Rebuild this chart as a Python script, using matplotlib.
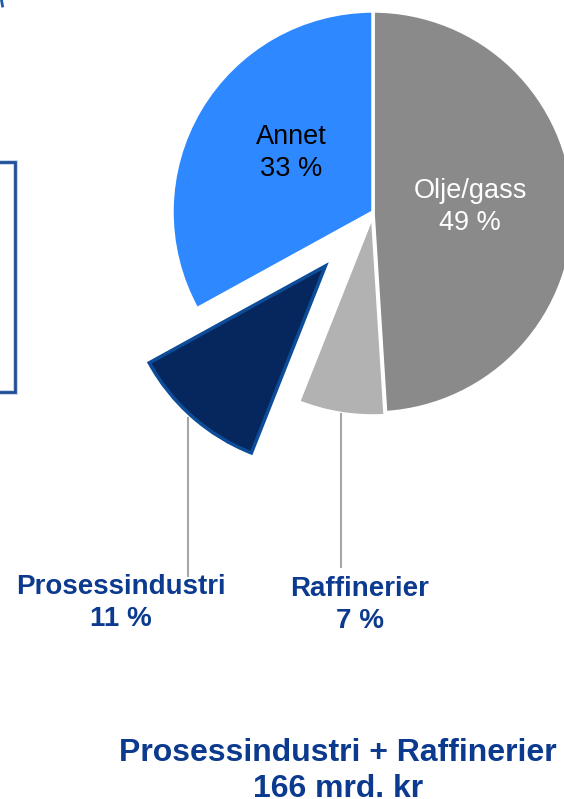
import matplotlib.pyplot as plt
from matplotlib.patches import Rectangle

plt.rcParams["font.family"] = ["Liberation Sans", "DejaVu Sans"]

# data
segments = ["Olje/gass", "Raffinerier", "Prosessindustri", "Annet"]
shares = [49, 7, 11, 33]
colors = ["#8a8a8a", "#b2b2b2", "#06265e", "#2e88ff"]
explode_px = [0, 3, 72, 0]
total_label = "Prosessindustri + Raffinerier\n166 mrd. kr"

W, H = 564, 799
NAVY = "#0b3a8e"


def Y(y):
    # image pixel row -> axis y (axis runs bottom-up)
    return H - y


fig = plt.figure(figsize=(W / 100, H / 100), dpi=100)
ax = fig.add_axes([0, 0, 1, 1])

wedges, _ = ax.pie(
    shares,
    colors=colors,
    explode=explode_px,
    startangle=90,
    counterclock=False,
    center=(373, Y(212)),
    radius=201,
    wedgeprops=dict(edgecolor="white", linewidth=2.5),
    frame=True,
)
ax.set_xlim(0, W)
ax.set_ylim(0, H)
ax.set_aspect("equal")
ax.axis("off")

# dark wedge gets a blue rim instead of the white one
wedges[2].set_edgecolor("#0d4c98")
wedges[2].set_linewidth(2.5)

# labels inside the pie
ax.text(291, Y(153), f"{segments[3]}\n{shares[3]} %", ha="center", va="center",
        fontsize=19.5, color="black", linespacing=1.3)
ax.text(470, Y(207), f"{segments[0]}\n{shares[0]} %", ha="center", va="center",
        fontsize=19.5, color="white", linespacing=1.3)

# leader lines + outside labels
ax.plot([188, 188], [Y(418), Y(576)], color="#a6a6a6", lw=1.5, zorder=3)
ax.plot([341, 341], [Y(414), Y(567)], color="#a6a6a6", lw=1.5, zorder=3)
ax.text(121, Y(603), f"{segments[2]}\n{shares[2]} %", ha="center", va="center",
        fontsize=20, fontweight="bold", color=NAVY, linespacing=1.3, zorder=2)
ax.text(360, Y(605), f"{segments[1]}\n{shares[1]} %", ha="center", va="center",
        fontsize=20, fontweight="bold", color=NAVY, linespacing=1.3)

ax.text(338, Y(771), total_label, ha="center", va="center",
        fontsize=23, fontweight="bold", color=NAVY, linespacing=1.25)

# cut-off box on the left edge
ax.add_patch(Rectangle((-20, Y(392)), 35, 230, fill=False,
                       edgecolor="#c5d3ea", lw=3.5, zorder=1))
ax.add_patch(Rectangle((-20, Y(392)), 35, 230, fill=False,
                       edgecolor="#1f4e98", lw=2, zorder=2))
ax.plot([1.5, 2.5], [Y(0), Y(6)], color="#1f5aa8", lw=2)

fig.savefig("out.png", dpi=100)
